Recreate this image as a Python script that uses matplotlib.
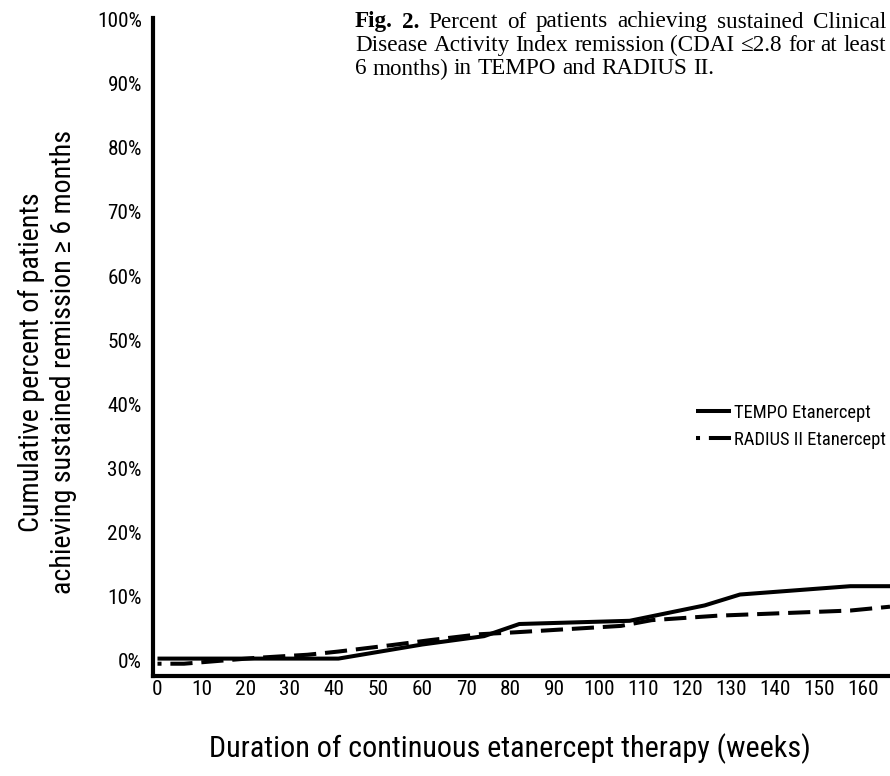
import matplotlib
matplotlib.use("Agg")
import matplotlib.pyplot as plt
from matplotlib import font_manager

# data
weeks_tempo = [0, 20, 41, 60, 74, 82, 107, 124, 132, 157, 166]
pct_tempo = [0.3, 0.3, 0.3, 2.5, 3.8, 5.7, 6.2, 8.6, 10.3, 11.6, 11.6]

weeks_radius = [0, 6, 22, 34, 41, 53, 62, 73, 81, 105, 112, 127, 142, 157, 166]
pct_radius = [-0.5, -0.5, 0.4, 0.9, 1.4, 2.4, 3.2, 4.1, 4.4, 5.4, 6.3, 7.0, 7.4, 7.8, 8.4]

series_names = ["TEMPO Etanercept", "RADIUS II Etanercept"]
x_ticks = list(range(0, 161, 10))
y_ticks = list(range(0, 101, 10))

x_title = "Duration of continuous etanercept therapy (weeks)"
y_title = ["Cumulative percent of patients", "achieving sustained remission \u2265 6 months"]
caption_lines = [
    ["Fig.", "2.", "Percent", "of", "patients", "achieving", "sustained", "Clinical"],
    ["Disease", "Activity", "Index", "remission", "(CDAI", "\u22642.8", "for", "at", "least"],
    ["6", "months)", "in", "TEMPO", "and", "RADIUS", "II."],
]

# look for a narrow sans (the original uses Arial Narrow)
entries = font_manager.fontManager.ttflist
names = {f.name for f in entries}
narrow, stretch = "Liberation Sans", "normal"
for cand in ["Liberation Sans Narrow", "Arial Narrow", "Roboto Condensed",
             "Open Sans Condensed", "Noto Sans Condensed"]:
    if cand in names:
        narrow = cand
        break
else:
    for fam in ["Roboto", "Noto Sans", "Open Sans", "DejaVu Sans"]:
        hit = [f for f in entries if f.name == fam and f.weight in (400, "normal")
               and f.style == "normal" and "condensed" in str(f.stretch)]
        if hit:
            narrow, stretch = fam, hit[0].stretch
            break
sans = dict(fontfamily=[narrow, "DejaVu Sans"], fontstretch=stretch)

fig = plt.figure(figsize=(8.9, 7.76), dpi=100)
fig.canvas.draw()
renderer = fig.canvas.get_renderer()


def fit_size(s, target_px, **kw):
    # font size that makes s about target_px wide
    t = fig.text(0, 0, s, fontsize=20, **kw)
    w = t.get_window_extent(renderer).width
    t.remove()
    return 20 * target_px / w


tick_fs = fit_size("100%", 45, **sans)
xlab_fs = fit_size(x_title, 600, **sans)
ylab_fs = fit_size(y_title[0], 338, **sans)
leg_fs = fit_size(series_names[1], 152, **sans)
cap_fs = fit_size(" ".join(caption_lines[0]), 505, fontfamily="Liberation Serif")

ax = fig.add_axes([0.172, 0.129, 0.828, 0.848])

ax.plot(weeks_tempo, pct_tempo, color="black", lw=2.9, solid_capstyle="butt",
        label=series_names[0])
ax.plot(weeks_radius, pct_radius, color="black", lw=2.9, linestyle=(4.5, (5.5, 2.2)),
        dash_capstyle="butt", label=series_names[1])

ax.set_xlim(-1, 166)
ax.set_ylim(-2.4, 100.3)
ax.set_xticks(x_ticks)
ax.set_yticks(y_ticks)
ax.set_yticklabels([f"{v}%" for v in y_ticks])
ax.tick_params(length=0)
ax.tick_params(axis="x", pad=3)
ax.tick_params(axis="y", pad=8)
for lab in ax.get_xticklabels() + ax.get_yticklabels():
    lab.set_fontfamily(sans["fontfamily"])
    lab.set_fontstretch(stretch)
    lab.set_fontsize(tick_fs)

for s in ["top", "right"]:
    ax.spines[s].set_visible(False)
for s in ["left", "bottom"]:
    ax.spines[s].set_linewidth(3)

ax.set_xlabel(x_title, fontsize=xlab_fs, **sans)
ax.xaxis.set_label_coords(0.484, -0.087)
ax.set_ylabel("\n".join(y_title), fontsize=ylab_fs, linespacing=1.25, **sans)
ax.yaxis.set_label_coords(-0.103, 0.477)

ax.legend(loc="upper right", bbox_to_anchor=(0.995, 0.48), bbox_transform=fig.transFigure,
          frameon=False, prop={"family": sans["fontfamily"], "stretch": stretch, "size": leg_fs},
          handlelength=1.9, handletextpad=0.15, borderpad=0, borderaxespad=0,
          labelspacing=0.5)

# caption, justified like a journal column
left_px, right_px = 355, 886
top_px, line_h = 22, 23.5
for i, words in enumerate(caption_lines):
    y = 1 - (top_px + i * line_h) / 776
    texts = []
    for j, w in enumerate(words):
        bold = i == 0 and j < 2
        t = fig.text(0, y, w, fontfamily="Liberation Serif", fontsize=cap_fs,
                     fontweight="bold" if bold else "normal", va="center", ha="left")
        texts.append(t)
    widths = [t.get_window_extent(renderer).width for t in texts]
    if i == len(caption_lines) - 1:
        space = cap_fs * 0.25 * 100 / 72
    else:
        space = (right_px - left_px - sum(widths)) / (len(words) - 1)
    x = left_px
    for t, w in zip(texts, widths):
        t.set_x(x / 890)
        x += w + space

fig.savefig("out.png", dpi=100)
